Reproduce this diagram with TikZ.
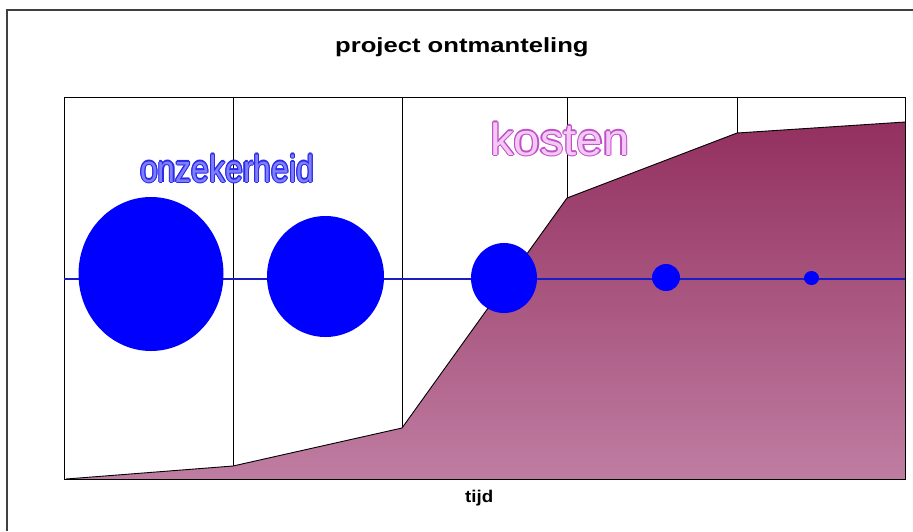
\documentclass[tikz,border=0pt]{standalone}
\usepackage{fontspec}
\usetikzlibrary{shapes.geometric}
\setmainfont{Liberation Sans}
\definecolor{costtop}{HTML}{93305F}
\definecolor{costbot}{HTML}{BF7DA2}
\definecolor{axisblue}{HTML}{1C1CC4}
\definecolor{dotblue}{HTML}{0000FF}
\definecolor{onzout}{HTML}{2A2AE8}
\definecolor{onzfill}{HTML}{7E7EFF}
\definecolor{kosout}{HTML}{C050C8}
\definecolor{kosfill}{HTML}{F4C8F4}
\tikzset{
  gridline/.style={black, line width=1pt},
  frameline/.style={black!75, line width=1.4pt},
  dot/.style={ellipse, fill=dotblue, inner sep=0pt},
  outlinecopy/.style={inner sep=0pt, anchor=base west},
}
\begin{document}
\begin{tikzpicture}[x=1pt,y=-1pt]
\useasboundingbox (0,0) rectangle (913,531);
% outer frame (only top and left visible)
\draw[frameline] (7,531) -- (7,10) -- (913,10);
% title
\node[inner sep=0pt, anchor=base west, font=\bfseries\fontsize{20.5}{24}\selectfont] (title) at (335,52) {\scalebox{1.25}[1]{project ontmanteling}};
% vertical grid lines
\foreach \x in {233,402,567,737} \draw[gridline] (\x,97) -- (\x,479);
% cost area
\shade[top color=costtop, bottom color=costbot]
  (66,479) -- (233,466) -- (402,428) -- (567,198) -- (737,133) -- (905,122) -- (905,479) -- cycle;
\draw[black, line width=0.9pt] (66,479) -- (233,466) -- (402,428) -- (567,198) -- (737,133) -- (905,122);
% plot box
\draw[gridline] (64,97) rectangle (905,479);
% axis line
\coordinate (axl) at (64,279);
\coordinate (axr) at (905,279);
\draw[axisblue, line width=2.6pt] (axl) -- (axr);
% uncertainty dots
\node[dot, minimum width=145pt, minimum height=154pt] (d1) at (151,274) {};
\node[dot, minimum width=117pt, minimum height=121pt] (d2) at (325.5,276.5) {};
\node[dot, minimum width=66pt, minimum height=70pt] (d3) at (504,278) {};
\node[dot, minimum width=28pt, minimum height=27pt] (d4) at (666,277.5) {};
\node[dot, minimum width=15pt, minimum height=14pt] (d5) at (811.5,278) {};
% outlined labels
\foreach \dx/\dy in {-1.2/0,1.2/0,0/-1.2,0/1.2,-0.85/-0.85,0.85/0.85,-0.85/0.85,0.85/-0.85}
  \node[outlinecopy, text=onzout, font=\fontsize{38}{40}\selectfont] at (140+\dx,182+\dy) {\scalebox{0.84}[1]{onzekerheid}};
\node[outlinecopy, text=onzfill, font=\fontsize{38}{40}\selectfont] (onz) at (140,182) {\scalebox{0.84}[1]{onzekerheid}};
\foreach \dx/\dy in {-1.2/0,1.2/0,0/-1.2,0/1.2,-0.85/-0.85,0.85/0.85,-0.85/0.85,0.85/-0.85}
  \node[outlinecopy, text=kosout, font=\fontsize{45}{48}\selectfont] at (490+\dx,155+\dy) {\scalebox{1.05}[1]{kosten}};
\node[outlinecopy, text=kosfill, font=\fontsize{45}{48}\selectfont] (kos) at (490,155) {\scalebox{1.05}[1]{kosten}};
% time label
\node[inner sep=0pt, anchor=base west, font=\bfseries\fontsize{17}{19}\selectfont] (tijd) at (465,502) {\scalebox{1.1}[1]{tijd}};
\end{tikzpicture}
\end{document}
